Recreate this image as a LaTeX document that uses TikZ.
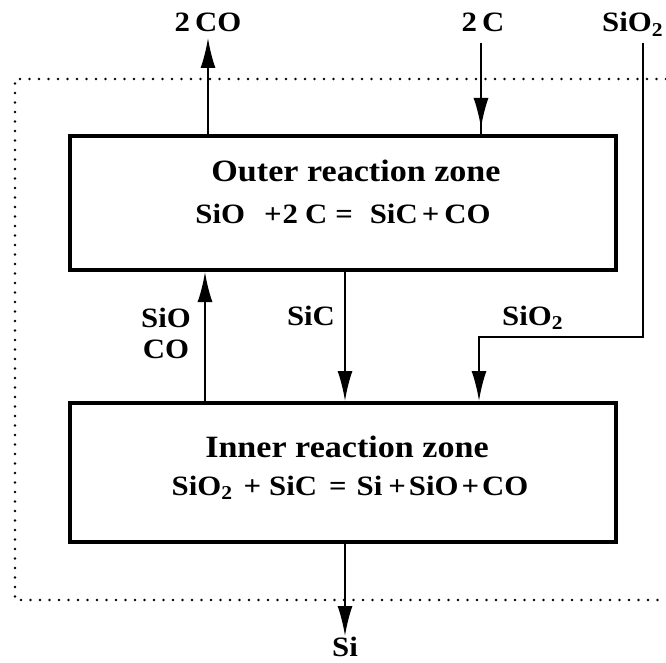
\documentclass[tikz,border=0pt]{standalone}
\usepackage{fontspec}
\setmainfont{Liberation Serif}[FakeStretch=1.1]
\usetikzlibrary{arrows.meta}
\tikzset{
  zone/.style={draw, line width=4pt, minimum width=546pt, inner sep=0pt},
  lbl/.style={anchor=base, inner sep=0pt, font=\fontsize{28}{31}\selectfont\bfseries},
  ztitle/.style={anchor=base, inner sep=0pt, font=\fontsize{31}{34}\selectfont\bfseries},
  zeq/.style={anchor=base, inner sep=0pt, font=\fontsize{28}{32}\selectfont\bfseries},
  flow/.style={line width=2pt},
  arr/.style={flow, -{Latex[length=30pt,width=15pt]}},
  dotline/.style={line width=2.6pt, line cap=round, dash pattern=on 0pt off 9.5pt}
}
\begin{document}
\begin{tikzpicture}[x=1pt,y=-1pt]
\useasboundingbox (0,0) rectangle (666,663);
% dotted frame
\draw[dotline] (666,79) -- (15,79) -- (15,600) -- (666,600);
% zones
\node[zone, minimum height=133.5pt] (outer) at (343,203.25) {};
\node[zone, minimum height=139pt] (inner) at (343,472.5) {};
\node[ztitle] (outerT) at (356,182) {Outer reaction zone};
\node[zeq] (outerE) at (343,223) {SiO\hspace{19pt}+\hspace{1pt}2\hspace{7pt}C\hspace{8pt}=\hspace{17pt}SiC\hspace{4pt}+\hspace{5pt}CO};
\node[ztitle] (innerT) at (347,457) {Inner reaction zone};
\node[zeq] (innerE) at (350,495) {SiO\textsubscript{2}\hspace{11pt}+\hspace{8pt}SiC\hspace{12pt}=\hspace{10pt}Si\hspace{6pt}+\hspace{3pt}SiO\hspace{3pt}+\hspace{3pt}CO};
% labels
\node[lbl] (lCO) at (208,32) {2\hspace{5pt}CO};
\node[lbl] (lC) at (483,32) {2\hspace{5pt}C};
\node[lbl, anchor=base west] (lSiO2) at (602,32) {SiO\textsubscript{2}};
\node[lbl, align=center] (lSiOCO) at (166,358) {SiO\\CO};
\node[lbl] (lSiC) at (311,325) {SiC};
\node[lbl, anchor=base west] (lSiO2b) at (502,325) {SiO\textsubscript{2}};
\node[lbl] (lSi) at (345,656) {Si};
% free ends
\coordinate (tCO) at (208,38);
\coordinate (sC) at (481,43);
\coordinate (tC) at (481,128);
\coordinate (sS) at (643,43);
\coordinate (jS) at (479,337);
\coordinate (xUp) at (205,0);
\coordinate (tSi) at (345,636);
% connectors
\draw[arr] (outer.north -| tCO) -- (tCO);
\draw[flow] (sC) -- (outer.north -| sC);
\draw[arr] (sC) -- (tC);
\draw[arr] (sS) |- (jS) -- (inner.north -| jS);
\draw[arr] (inner.north -| xUp) -- (outer.south -| xUp);
\draw[arr] (outer.south -| tSi) -- (inner.north -| tSi);
\draw[arr] (inner.south -| tSi) -- (tSi);
\end{tikzpicture}
\end{document}
